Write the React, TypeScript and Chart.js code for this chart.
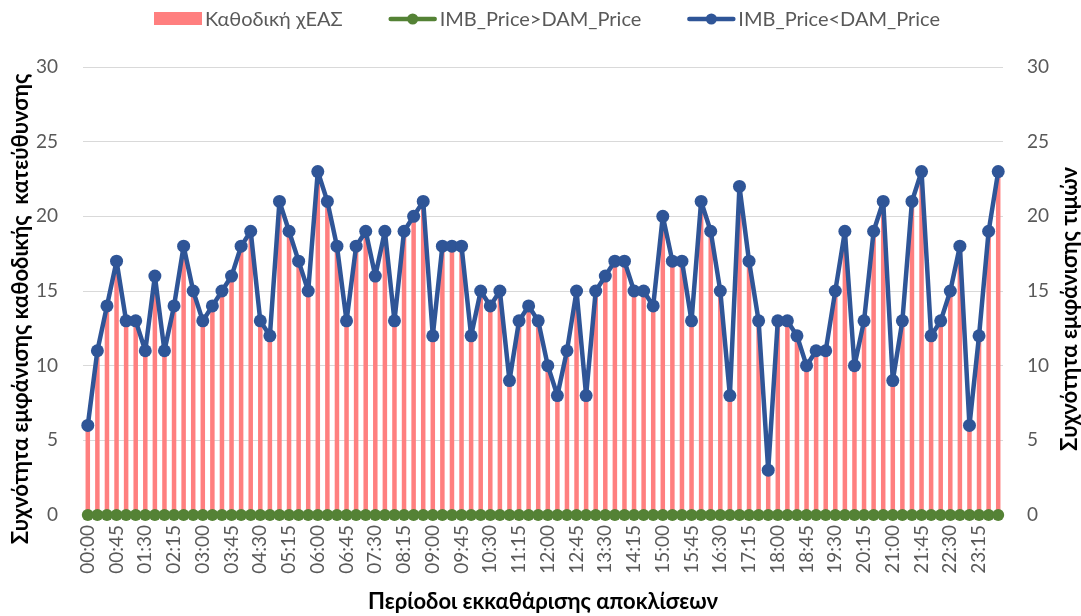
import React, { useEffect, useRef } from "react";
import { Chart, registerables } from "chart.js";

Chart.register(...registerables);

const categories = [
  "00:00","00:15","00:30","00:45","01:00","01:15","01:30","01:45",
  "02:00","02:15","02:30","02:45","03:00","03:15","03:30","03:45",
  "04:00","04:15","04:30","04:45","05:00","05:15","05:30","05:45",
  "06:00","06:15","06:30","06:45","07:00","07:15","07:30","07:45",
  "08:00","08:15","08:30","08:45","09:00","09:15","09:30","09:45",
  "10:00","10:15","10:30","10:45","11:00","11:15","11:30","11:45",
  "12:00","12:15","12:30","12:45","13:00","13:15","13:30","13:45",
  "14:00","14:15","14:30","14:45","15:00","15:15","15:30","15:45",
  "16:00","16:15","16:30","16:45","17:00","17:15","17:30","17:45",
  "18:00","18:15","18:30","18:45","19:00","19:15","19:30","19:45",
  "20:00","20:15","20:30","20:45","21:00","21:15","21:30","21:45",
  "22:00","22:15","22:30","22:45","23:00","23:15","23:30","23:45",
];

// Καθοδική χΕΑΣ (bars)
const downwardValues = [
  6, 11, 14, 17, 13, 13, 11, 16, 11, 14, 18, 15, 13, 14, 15, 16,
  18, 19, 13, 12, 21, 19, 17, 15, 23, 21, 18, 13, 18, 19, 16, 19,
  13, 19, 20, 21, 12, 18, 18, 18, 12, 15, 14, 15, 9, 13, 14, 13,
  10, 8, 11, 15, 8, 15, 16, 17, 17, 15, 15, 14, 20, 17, 17, 13,
  21, 19, 15, 8, 22, 17, 13, 3, 13, 13, 12, 10, 11, 11, 15, 19,
  10, 13, 19, 21, 9, 13, 21, 23, 12, 13, 15, 18, 6, 12, 19, 23,
];

// IMB_Price>DAM_Price
const imbAboveDamValues = [
  0, 0, 0, 0, 0, 0, 0, 0, 0, 0, 0, 0, 0, 0, 0, 0,
  0, 0, 0, 0, 0, 0, 0, 0, 0, 0, 0, 0, 0, 0, 0, 0,
  0, 0, 0, 0, 0, 0, 0, 0, 0, 0, 0, 0, 0, 0, 0, 0,
  0, 0, 0, 0, 0, 0, 0, 0, 0, 0, 0, 0, 0, 0, 0, 0,
  0, 0, 0, 0, 0, 0, 0, 0, 0, 0, 0, 0, 0, 0, 0, 0,
  0, 0, 0, 0, 0, 0, 0, 0, 0, 0, 0, 0, 0, 0, 0, 0,
];

// IMB_Price<DAM_Price
const imbBelowDamValues = [
  6, 11, 14, 17, 13, 13, 11, 16, 11, 14, 18, 15, 13, 14, 15, 16,
  18, 19, 13, 12, 21, 19, 17, 15, 23, 21, 18, 13, 18, 19, 16, 19,
  13, 19, 20, 21, 12, 18, 18, 18, 12, 15, 14, 15, 9, 13, 14, 13,
  10, 8, 11, 15, 8, 15, 16, 17, 17, 15, 15, 14, 20, 17, 17, 13,
  21, 19, 15, 8, 22, 17, 13, 3, 13, 13, 12, 10, 11, 11, 15, 19,
  10, 13, 19, 21, 9, 13, 21, 23, 12, 13, 15, 18, 6, 12, 19, 23,
];

const seriesLabels = ["Καθοδική χΕΑΣ", "IMB_Price>DAM_Price", "IMB_Price<DAM_Price"];
const leftTitle = "Συχνότητα εμφάνισης καθοδικής  κατεύθυνσης";
const rightTitle = "Συχνότητα εμφάνισης τιμών";
const xTitle = "Περίοδοι εκκαθάρισης αποκλίσεων";

const BAR_COLOR = "#FF7F7F";
const GREEN = "#548235";
const BLUE = "#2F5597";
const TICK_COLOR = "#595959";
const GRID_COLOR = "#D9D9D9";
const FONT = "Lato";

const customPlugin = {
  id: "customDecor",
  afterDraw(chart: any) {
    const ctx = chart.ctx as CanvasRenderingContext2D;
    const area = chart.chartArea;
    ctx.save();
    // Legend
    ctx.font = `20px ${FONT}`;
    ctx.textBaseline = "middle";
    ctx.textAlign = "left";
    const symW = 48;
    const gapSym = 3;
    const gapItem = 46;
    const ds = chart.data.datasets;
    const widths = ds.map((d: any) => ctx.measureText(d.label).width);
    let total = 0;
    widths.forEach((w: number, i: number) => {
      total += symW + gapSym + w + (i < widths.length - 1 ? gapItem : 0);
    });
    let x = 547 - total / 2;
    const ly = 19;
    ds.forEach((d: any, i: number) => {
      if (d.type === "bar") {
        ctx.fillStyle = d.backgroundColor;
        ctx.fillRect(x, ly - 7, symW, 13);
      } else {
        ctx.strokeStyle = d.borderColor;
        ctx.lineWidth = 4.5;
        ctx.lineCap = "round";
        ctx.beginPath();
        ctx.moveTo(x + 2, ly);
        ctx.lineTo(x + symW - 2, ly);
        ctx.stroke();
        ctx.fillStyle = d.borderColor;
        ctx.beginPath();
        ctx.arc(x + symW / 2, ly, 5.5, 0, Math.PI * 2);
        ctx.fill();
      }
      x += symW + gapSym;
      ctx.fillStyle = TICK_COLOR;
      ctx.fillText(d.label, x, ly + 1);
      x += widths[i] + gapItem;
    });

    // Vertical axis titles
    ctx.font = `bold 22px ${FONT}`;
    ctx.fillStyle = "#000000";
    ctx.textAlign = "center";
    ctx.textBaseline = "middle";
    const cy = (area.top + area.bottom) / 2 + 18;
    ctx.save();
    ctx.translate(21, cy);
    ctx.rotate(-Math.PI / 2);
    ctx.fillText(leftTitle, 0, 0);
    ctx.restore();
    ctx.save();
    ctx.translate(1070, cy);
    ctx.rotate(-Math.PI / 2);
    ctx.fillText(rightTitle, 0, 0);
    ctx.restore();
    ctx.restore();
  },
};

export default function App() {
  const canvasRef = useRef<HTMLCanvasElement | null>(null);

  useEffect(() => {
    document.body.style.margin = "0";
    const canvas = canvasRef.current;
    if (!canvas) return;
    const chart = new Chart(canvas, {
      type: "bar",
      data: {
        labels: categories,
        datasets: [
          {
            type: "bar",
            label: seriesLabels[0],
            data: downwardValues,
            backgroundColor: BAR_COLOR,
            borderWidth: 0,
            barPercentage: 0.47,
            categoryPercentage: 1,
            yAxisID: "y",
            order: 3,
          } as any,
          {
            type: "line",
            label: seriesLabels[1],
            data: imbAboveDamValues,
            borderColor: GREEN,
            backgroundColor: GREEN,
            borderWidth: 4.5,
            borderJoinStyle: "round",
            borderCapStyle: "round",
            pointRadius: 6,
            pointBackgroundColor: GREEN,
            pointBorderColor: GREEN,
            pointBorderWidth: 0,
            tension: 0,
            yAxisID: "y2",
            clip: false,
            order: 2,
          } as any,
          {
            type: "line",
            label: seriesLabels[2],
            data: imbBelowDamValues,
            borderColor: BLUE,
            backgroundColor: BLUE,
            borderWidth: 4.5,
            borderJoinStyle: "round",
            borderCapStyle: "round",
            pointRadius: 6.5,
            pointBackgroundColor: BLUE,
            pointBorderColor: BLUE,
            pointBorderWidth: 0,
            tension: 0,
            yAxisID: "y2",
            clip: false,
            order: 1,
          } as any,
        ],
      },
      options: {
        responsive: false,
        animation: false,
        maintainAspectRatio: false,
        layout: { padding: { top: 67, left: 0, right: 0, bottom: 0 } },
        plugins: {
          legend: { display: false },
          tooltip: { enabled: false },
        },
        scales: {
          x: {
            type: "category",
            grid: { display: false, drawTicks: false },
            border: { display: false },
            ticks: {
              autoSkip: false,
              maxRotation: 90,
              minRotation: 90,
              padding: 10,
              color: TICK_COLOR,
              font: { family: FONT, size: 19 },
              callback: (_v: any, idx: number) => (idx % 3 === 0 ? categories[idx] : ""),
            },
            title: {
              display: true,
              text: xTitle,
              color: "#000000",
              font: { family: FONT, size: 22, weight: "bold" },
              padding: { top: 0, bottom: 1 },
            },
            afterFit: (scale: any) => {
              scale.height = 101;
            },
          },
          y: {
            position: "left",
            min: 0,
            max: 30,
            grid: { color: GRID_COLOR, lineWidth: 1, drawTicks: false },
            border: { display: false },
            ticks: {
              stepSize: 5,
              padding: 25,
              color: TICK_COLOR,
              font: { family: FONT, size: 19 },
            },
            afterFit: (scale: any) => {
              scale.width = 83;
            },
          },
          y2: {
            position: "right",
            min: 0,
            max: 30,
            grid: { display: false, drawTicks: false },
            border: { display: false },
            ticks: {
              stepSize: 5,
              padding: 24,
              color: TICK_COLOR,
              font: { family: FONT, size: 19 },
            },
            afterFit: (scale: any) => {
              scale.width = 78;
            },
          },
        },
      } as any,
      plugins: [customPlugin],
    });
    return () => chart.destroy();
  }, []);

  return (
    <div style={{ position: "absolute", left: 0, top: 0, width: 1081, height: 616, background: "#ffffff" }}>
      <canvas ref={canvasRef} width={1081} height={616} style={{ display: "block" }} />
    </div>
  );
}
